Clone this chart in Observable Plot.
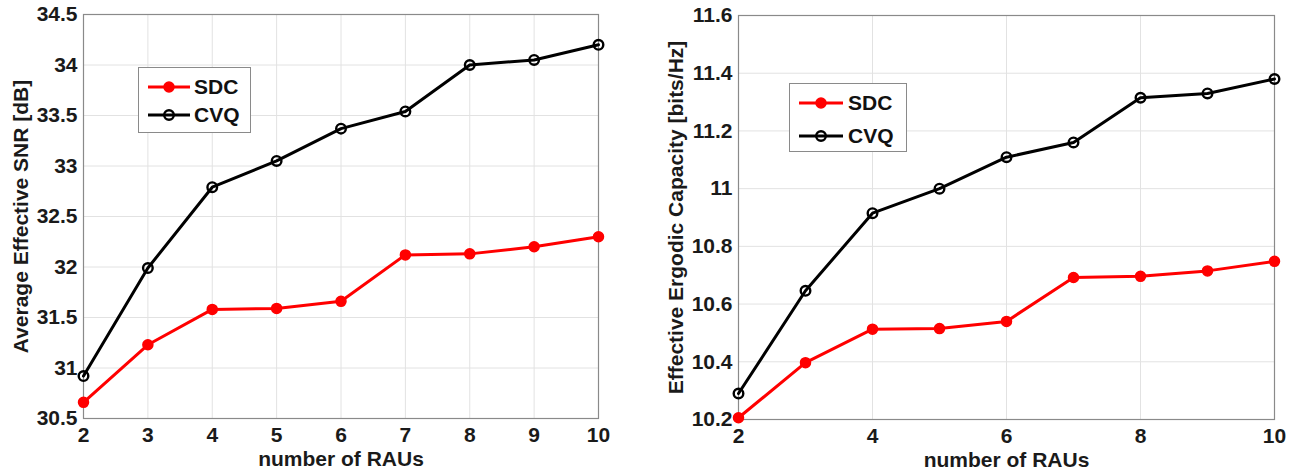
<!DOCTYPE html>
<html>
<head>
<meta charset="utf-8">
<script src="https://cdn.jsdelivr.net/npm/d3@7"></script>
<script src="https://cdn.jsdelivr.net/npm/@observablehq/plot@0.6"></script>
<style>
  html, body { margin: 0; padding: 0; background: white; }
  #wrap { position: relative; width: 1301px; height: 472px; overflow: hidden; font-family: "Liberation Sans", Arial, sans-serif; font-weight: bold; }
  .panel { position: absolute; top: 0; }
  .legend { position: absolute; background: white; border: 1px solid #8a8a8a; box-sizing: border-box; font-size: 21px; color: #111; }
  .legend .row { position: absolute; left: 0; display: flex; align-items: center; }
  .legend svg { display: block; }
</style>
</head>
<body>
<div id="wrap"></div>
<script>
// ---- data ----
const series = ["SDC", "CVQ"];
const seriesColors = ["#ff0000", "#000000"];
const raus = [2, 3, 4, 5, 6, 7, 8, 9, 10];
const snrSDC = [30.66, 31.23, 31.58, 31.59, 31.66, 32.12, 32.13, 32.20, 32.30];
const snrCVQ = [30.92, 31.99, 32.79, 33.05, 33.37, 33.54, 34.00, 34.05, 34.20];
const capSDC = [10.206, 10.397, 10.513, 10.515, 10.540, 10.692, 10.696, 10.715, 10.748];
const capCVQ = [10.290, 10.646, 10.915, 11.000, 11.109, 11.160, 11.315, 11.330, 11.380];
const xTicksLeft = [2, 3, 4, 5, 6, 7, 8, 9, 10];
const xTicksRight = [2, 4, 6, 8, 10];
const yTicksLeft = [30.5, 31, 31.5, 32, 32.5, 33, 33.5, 34, 34.5];
const yTicksRight = [10.2, 10.4, 10.6, 10.8, 11, 11.2, 11.4, 11.6];
const xLabel = "number of RAUs";
const yLabelLeft = "Average Effective SNR [dB]";
const yLabelRight = "Effective Ergodic Capacity [bits/Hz]";

function rows(a, b) {
  return raus.flatMap((x, i) => [
    {x, y: a[i], s: series[0]},
    {x, y: b[i], s: series[1]}
  ]);
}

function makePanel(opts) {
  const data = rows(opts.a, opts.b);
  return Plot.plot({
    width: opts.width,
    height: 472,
    marginLeft: opts.ml, marginRight: opts.mr, marginTop: opts.mt, marginBottom: opts.mb,
    style: {fontFamily: "'Liberation Sans', Arial, sans-serif", fontWeight: "bold", fontSize: "21px", color: "#1a1a1a", background: "white", overflow: "visible"},
    x: {type: "linear", domain: [2, 10]},
    y: {type: "linear", domain: opts.yDomain},
    color: {domain: series, range: seriesColors},
    marks: [
      Plot.gridX(opts.xTicks, {stroke: "#e2e2e2", strokeOpacity: 1}),
      Plot.gridY(opts.yTicks, {stroke: "#e2e2e2", strokeOpacity: 1}),
      Plot.frame({stroke: "#8a8a8a", strokeWidth: 1.2}),
      Plot.axisX(opts.xTicks, {tickSize: 0, tickPadding: 9, tickFormat: d => String(d), fontSize: 21, label: xLabel, labelAnchor: "center", labelOffset: 47, labelArrow: false}),
      Plot.axisY(opts.yTicks, {tickSize: 0, tickPadding: 6, tickFormat: d => String(d), fontSize: 21, label: opts.yLabel, labelAnchor: "center", labelOffset: opts.labelOffsetY, labelArrow: false}),
      Plot.line(data, {x: "x", y: "y", z: "s", stroke: "s", strokeWidth: 3}),
      Plot.dot(data.filter(d => d.s === series[0]), {x: "x", y: "y", r: 5, fill: seriesColors[0], stroke: seriesColors[0], strokeWidth: 1.5}),
      Plot.dot(data.filter(d => d.s === series[1]), {x: "x", y: "y", r: 4.8, fill: "none", stroke: seriesColors[1], strokeWidth: 2.4})
    ]
  });
}

const wrap = document.getElementById("wrap");

const left = makePanel({a: snrSDC, b: snrCVQ, width: 650, ml: 83, mr: 52, mt: 14, mb: 54,
  yDomain: [30.5, 34.5], xTicks: xTicksLeft, yTicks: yTicksLeft, yLabel: yLabelLeft, labelOffsetY: 70});
left.classList.add("panel"); left.style.left = "0px";
wrap.appendChild(left);

const right = makePanel({a: capSDC, b: capCVQ, width: 651, ml: 88, mr: 27, mt: 15, mb: 53,
  yDomain: [10.2, 11.6], xTicks: xTicksRight, yTicks: yTicksRight, yLabel: yLabelRight, labelOffsetY: 70});
right.classList.add("panel"); right.style.left = "650px";
wrap.appendChild(right);

function legend(box) {
  const el = document.createElement("div");
  el.className = "legend";
  Object.assign(el.style, {left: box.x + "px", top: box.y + "px", width: box.w + "px", height: box.h + "px"});
  series.forEach((name, i) => {
    const row = document.createElement("div");
    row.className = "row";
    row.style.top = (box.rowY[i] - box.y - 14) + "px";
    row.style.left = (box.lineX - box.x) + "px";
    row.style.height = "28px";
    const lw = box.lineW;
    const filled = i === 0;
    row.innerHTML = `<svg width="${lw}" height="28"><line x1="0" x2="${lw}" y1="14" y2="14" stroke="${seriesColors[i]}" stroke-width="3"/>` +
      `<circle cx="${lw / 2}" cy="14" r="${filled ? 5 : 4.8}" fill="${filled ? seriesColors[i] : 'none'}" stroke="${seriesColors[i]}" stroke-width="${filled ? 1.5 : 2.4}"/></svg>` +
      `<span style="margin-left:${box.gap}px">${name}</span>`;
    el.appendChild(row);
  });
  wrap.appendChild(el);
}
legend({x: 138, y: 67, w: 113, h: 66, lineX: 147, lineW: 42, gap: 4, rowY: [86, 114]});
legend({x: 789, y: 83, w: 118, h: 69, lineX: 798, lineW: 44, gap: 5, rowY: [102, 135]});
</script>
</body>
</html>
